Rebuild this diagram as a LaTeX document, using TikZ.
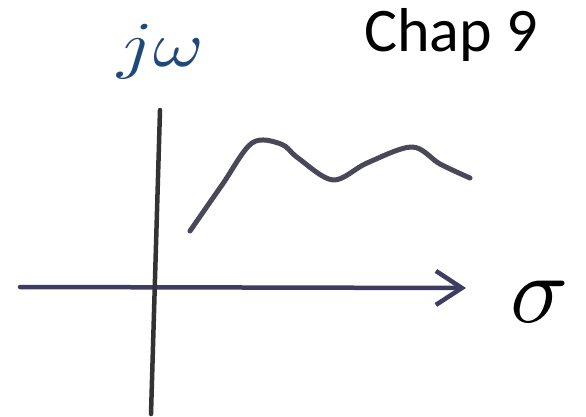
\documentclass[tikz,border=0pt]{standalone}
\usepackage{fontspec}
\newfontfamily\chapfont{Carlito}
\DeclareFontShape{OML}{cmm}{m}{it}{<->cmmi10}{\skewchar\font=127}
\usetikzlibrary{arrows.meta}
\definecolor{axisblue}{RGB}{62,60,98}
\definecolor{curvegray}{RGB}{72,72,88}
\definecolor{labelblue}{RGB}{31,73,125}
\tikzset{
    axis/.style={line width=4.5pt, line cap=round},
    sketch/.style={curvegray, line width=5pt, line cap=round, line join=round},
    label/.style={inner sep=0pt, anchor=base west}
}
\begin{document}
\begin{tikzpicture}[x=1pt,y=-1pt]
    \useasboundingbox (0,0) rectangle (586,417);

    % Axis end points
    \coordinate (sigmaL) at (20,287);
    \coordinate (sigmaR) at (466,288);
    \coordinate (omegaT) at (160,110);
    \coordinate (omegaB) at (151,414);

    % Draw axes
    \draw[axis, axisblue, -{Straight Barb[length=26pt, width=34pt, line width=4.5pt]}] (sigmaL) -- (sigmaR);
    \draw[axis, black!80] (omegaT) -- (omegaB);

    % Hand drawn curve
    \draw[sketch] plot[smooth, tension=0.55] coordinates {
        (190,231) (222,185) (252,143) (281,144) (298,158)
        (333,180) (367,163) (412,147) (440,164) (470,178)};

    % Labels
    \node[label, labelblue] (jw) at (117,67) {\scalebox{1.2}[1]{\fontsize{64}{74}\selectfont$j\omega$}};
    \node[label] (chap) at (364,52) {\chapfont\fontsize{62}{72}\selectfont Chap 9};
    \node[label] (sigma) at (510,322) {\fontsize{96}{110}\selectfont$\sigma$};
\end{tikzpicture}
\end{document}
